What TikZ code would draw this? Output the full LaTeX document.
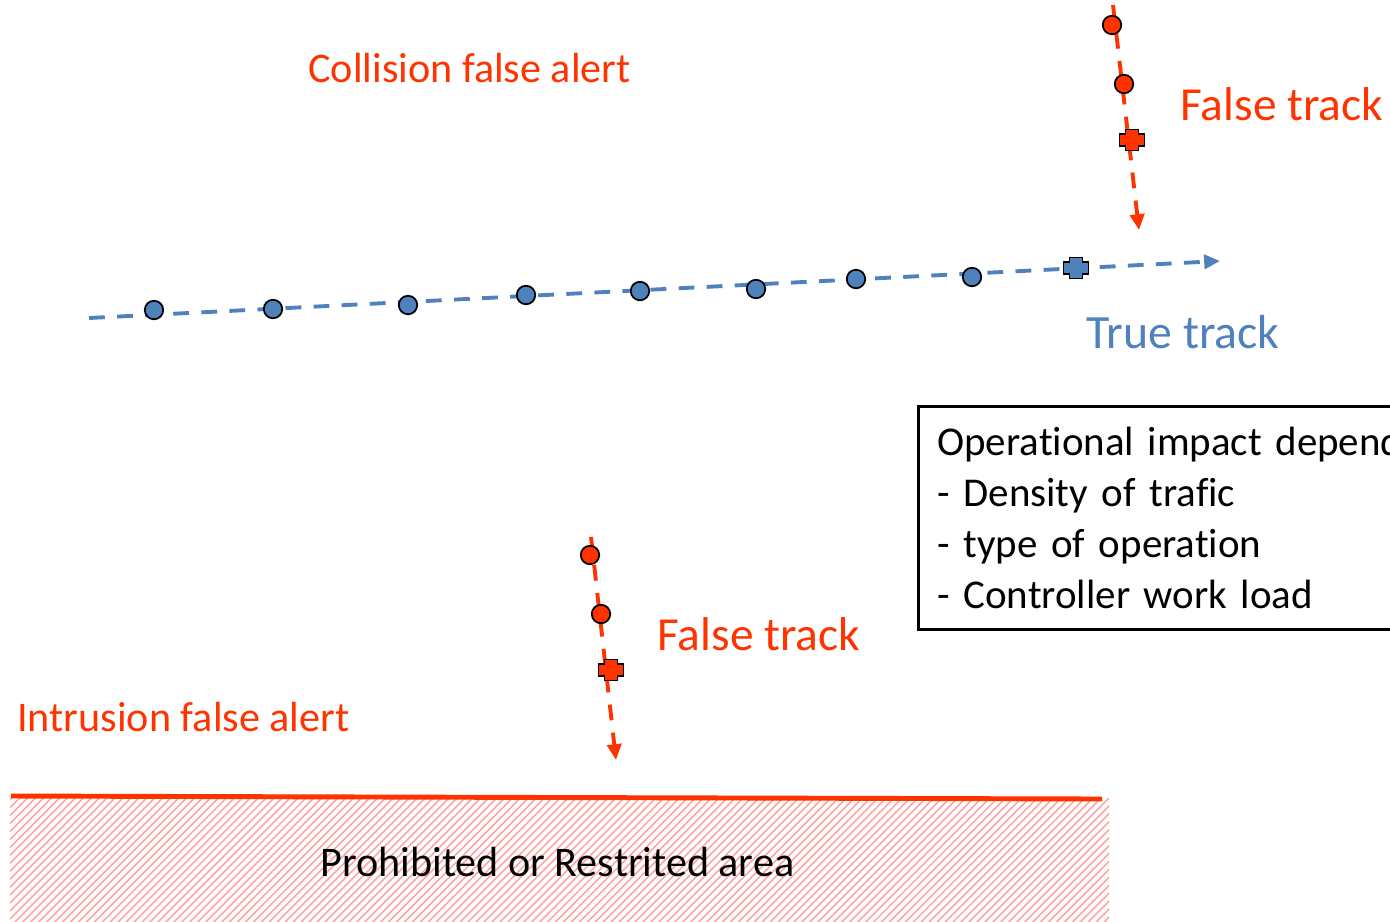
\documentclass[tikz,border=0pt]{standalone}
\usepackage{fontspec}
\setmainfont{Carlito}[Ligatures = NoCommon]
\usepackage{xcolor}
\usepackage{tikz}
\definecolor{alertRed}{HTML}{FF3300}
\definecolor{trackBlue}{HTML}{4F81BD}
\definecolor{areaPink}{HTML}{FFA3A3}
\usetikzlibrary{arrows.meta, patterns.meta}
\tikzstyle{dot} = [circle, draw, line width = 1pt, minimum size = 0.37cm, inner sep = 0pt]
\tikzstyle{dotRed} = [dot, fill = alertRed]
\tikzstyle{dotBlue} = [dot, fill = trackBlue]
\tikzstyle{track} = [line width = 2.2pt, dash pattern = on 9pt off 7pt, -{Triangle[length = 9pt, width = 8pt]}]
\tikzstyle{label} = [anchor = base west, inner sep = 0pt]
\tikzstyle{redText} = [label, text = alertRed, font = \fontsize{27}{30}\selectfont]
\tikzstyle{noteBox} = [rectangle, draw, line width = 1.5pt, anchor = north west, align = left, minimum width = 10.6cm, minimum height = 4.46cm, text width = 12cm, inner xsep = 0.38cm, font = \fontsize{23.3}{29}\selectfont]
\tikzset{plusmark/.style = {rectangle, minimum width = 0.56cm, minimum height = 0.48cm, inner sep = 0pt,
    path picture = {\draw[line width = 1pt, fill = #1] (path picture bounding box.center)
        ++(-0.25cm, 0.12cm) -- ++(0.12cm, 0) -- ++(0, 0.09cm) -- ++(0.26cm, 0) -- ++(0, -0.09cm)
        -- ++(0.12cm, 0) -- ++(0, -0.24cm) -- ++(-0.12cm, 0) -- ++(0, -0.09cm) -- ++(-0.26cm, 0)
        -- ++(0, 0.09cm) -- ++(-0.12cm, 0) -- cycle;}}}

\begin{document}
\begin{tikzpicture}[x = 0.02cm, y = -0.02cm]
        \useasboundingbox (0, 0) rectangle (1390, 921);
        \clip (0, 0) rectangle (1390, 921);
        % restricted area
        \coordinate (areaNW) at (10, 798);
        \coordinate (areaSE) at (1109, 925);
        \fill[pattern = {Lines[angle = 45, distance = 3.2pt, line width = 0.9pt]}, pattern color = areaPink] (areaNW) rectangle (areaSE);
        \coordinate (borderL) at (11, 796);
        \coordinate (borderR) at (1102, 799);
        \draw[alertRed, line width = 2.8pt] (borderL) -- (borderR);
        \node(area) [label, font = \fontsize{24}{29}\selectfont] at (320, 876) {Prohibited or Restrited area};
        % true track
        \coordinate (trueStart) at (89, 318);
        \coordinate (trueEnd) at (1220, 261);
        \draw[track, trackBlue] (trueStart) -- (trueEnd);
        \foreach \x/\y [count = \i] in {154/310, 273/309, 408/305, 526/295, 640/291, 756/289, 856/279, 972/277}
            \node(true\i) [dotBlue] at (\x, \y) {};
        \node(trueNow) [plusmark = trackBlue] at (1076, 268) {};
        \node(trueLabel) [label, text = trackBlue, font = \fontsize{27.2}{30}\selectfont] at (1086, 348) {True track};
        % false track, collision
        \coordinate (upStart) at (1113, 5);
        \coordinate (upEnd) at (1139, 230);
        \draw[track, alertRed] (upStart) -- (upEnd);
        \node(up1) [dotRed] at (1112, 25) {};
        \node(up2) [dotRed] at (1124, 84) {};
        \node(upNow) [plusmark = alertRed] at (1132, 140) {};
        \node(upLabel) [redText] at (1180, 120) {False track};
        \node(collision) [label, text = alertRed, font = \fontsize{24}{29}\selectfont] at (308, 82) {Collision false alert};
        % false track, intrusion
        \coordinate (lowStart) at (591, 537);
        \coordinate (lowEnd) at (616, 760);
        \draw[track, alertRed] (lowStart) -- (lowEnd);
        \node(low1) [dotRed] at (590, 555) {};
        \node(low2) [dotRed] at (601, 614) {};
        \node(lowNow) [plusmark = alertRed] at (611, 670) {};
        \node(lowLabel) [redText] at (657, 650) {False track};
        \node(intrusion) [label, text = alertRed, font = \fontsize{24}{29}\selectfont] at (17, 731) {Intrusion false alert};
        % operational impact
        \node(impact) [noteBox] at (917, 405) {Operational impact depend\\- Density of trafic\\- type of operation\\- Controller work load};
    \end{tikzpicture}
\end{document}
